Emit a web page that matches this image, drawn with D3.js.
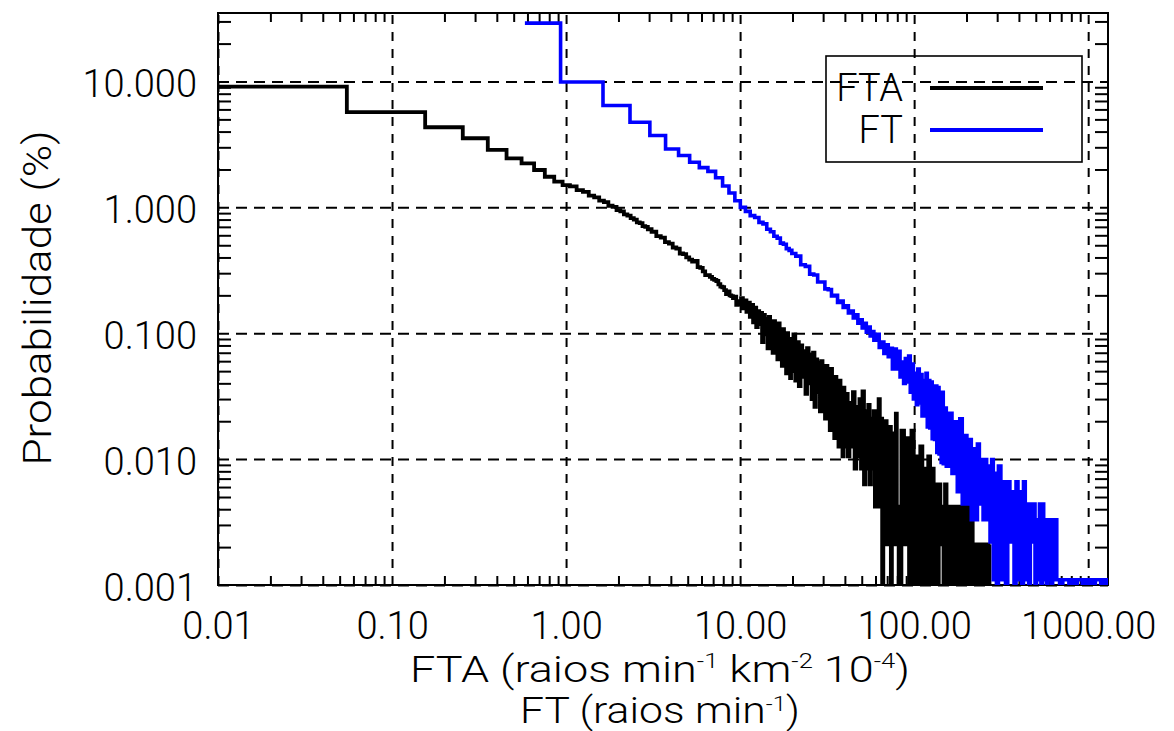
<!DOCTYPE html>
<html><head><meta charset="utf-8">
<script src="https://cdn.jsdelivr.net/npm/d3@7"></script>
<style>
html,body{margin:0;padding:0;background:#fff;}
svg{display:block;}
text{font-family:"Roboto","Liberation Sans",Arial,sans-serif;font-weight:300;fill:#000;}
</style></head><body>
<svg id="chart" width="1174" height="731"></svg>
<script>
// ---------------- DATA ----------------
const xDomain = [0.01, 1300];
const yDomain = [0.001, 35];
const xMajor = [0.01, 0.1, 1, 10, 100, 1000];
const xTickLabels = ["0.01", "0.10", "1.00", "10.00", "100.00", "1000.00"];
const yMajor = [0.001, 0.01, 0.1, 1, 10];
const yTickLabels = ["0.001", "0.010", "0.100", "1.000", "10.000"];
const seriesNames = ["FTA", "FT"];
const seriesColors = ["#000000", "#0000ff"];
const xTitle1 = ["FTA (raios min", "-1", " km", "-2", " 10", "-4", ")"];
const xTitle2 = ["FT (raios min", "-1", ")"];
const yTitle = "Probabilidade (%)";

// FTA histogram: bin centres and probability (%)
const ftaX = [0.005,0.105,0.205,0.305,0.405,0.505,0.605,0.705,0.805,0.905,1.005,
  1.1,1.2,1.3,1.4,1.5,1.6,1.7,1.8,1.9,2.0,2.1,2.2,2.3,2.4,2.5,2.6,2.7,2.8,2.9,3.0,
  3.2,3.4,3.6,3.8,4.0,4.2,4.4,4.6,4.8,5.0,5.2,5.4,5.6,5.8,6.0,6.2,6.4,6.6,6.8,7.0,
  7.2,7.4,7.6,7.8,8.0,8.2,8.4,8.6,8.8,9.0,9.2,9.4,9.6,9.8,10.0,
  10.25,10.5,10.75,11,11.25,11.5,11.75,12,12.25,12.5,12.75,13,13.25,13.5,13.75,14,14.25,14.5,14.75,15,
  15.25,15.5,15.75,16,16.25,16.5,16.75,17,17.25,17.5,17.75,18,18.25,18.5,18.75,19,19.25,19.5,19.75,20,
  20.5,21,21.5,22,22.5,23,23.5,24,24.5,25,25.5,26,26.5,27,27.5,28,28.5,29,29.5,30,
  30.5,31,31.5,32,32.5,33,33.5,34,34.5,35,35.5,36,36.5,37,37.5,38,38.5,39,39.5,40,
  41,42,43,44,45,46,47,48,49,50,51,52,53,54,55,56,57,58,59,60,
  61,62,63,64,65,66,67,68,69,70,71,72,73,74,75,76,77,78,79,80,
  83,86,89,92,95,98,101,104,107,110,113,116,119,122,125,128,131,134,137,140,143,146,149,152,155,158,161,
  166,172,178,184,190,196,202,208,214,220,226,232,238,244,250,256,262,268,274];
const ftaY = [9.1,5.7,4.33,3.54,2.86,2.45,2.24,1.98,1.75,1.60,1.50,
  1.47,1.37,1.33,1.24,1.20,1.13,1.10,1.03,1.01,0.95,0.93,0.88,0.86,0.82,0.80,0.76,0.75,0.71,0.70,0.67,
  0.64,0.59,0.575,0.53,0.515,0.48,0.47,0.43,0.425,0.40,0.385,0.37,0.375,0.335,0.33,0.31,0.29,0.29,0.28,0.27,
  0.265,0.26,0.245,0.235,0.232,0.22,0.205,0.215,0.20,0.197,0.19,0.195,0.168,0.18,0.17,
  0.19,0.158,0.182,0.148,0.175,0.135,0.168,0.122,0.16,0.112,0.15,0.118,0.145,0.085,0.14,0.098,0.13,0.076,0.135,0.088,
  0.118,0.07,0.125,0.079,0.11,0.062,0.12,0.068,0.098,0.055,0.108,0.06,0.095,0.048,0.1,0.055,0.088,0.044,0.09,0.05,
  0.098,0.042,0.085,0.038,0.08,0.045,0.072,0.033,0.076,0.04,0.068,0.03,0.07,0.026,0.062,0.034,0.058,0.024,0.06,0.028,
  0.052,0.021,0.055,0.025,0.046,0.017,0.052,0.021,0.042,0.0147,0.045,0.019,0.038,0.0126,0.042,0.0147,0.034,0.0105,0.037,0.0126,
  0.033,0.0105,0.028,0.0126,0.034,0.0084,0.026,0.0105,0.03,0.0084,0.0345,0.0063,0.024,0.0084,0.027,0.0063,0.021,0.0084,0.024,0.0042,
  0.019,0.0063,0.03,0.0042,0.021,0,0.0168,0.0042,0.02,0.0021,0.0147,0.0063,0.018,0,0.0126,0.0042,0.016,0.0021,0.023,0.0042,
  0,0.0168,0.0021,0.0147,0,0.0168,0,0.0105,0,0.0126,0,0.0084,0,0.0105,0,0.0084,0,0.0063,0,0.0063,0.0021,0.0042,0,0.0063,0,0.0042,0,
  0.0042,0,0.0042,0,0.0042,0,0.0063,0,0.0042,0,0.0021,0,0.0021,0,0.0021,0,0.0021,0,0.0021];

// FT histogram: bin centres and probability (%)
const ftX = [0.58,1.28,1.98,2.68,3.38,4.08,4.78,5.48,6.18,6.88,7.58,8.28,8.98,9.68,
  10.38,11.08,11.78,12.48,13.18,13.88,14.58,15.28,15.98,16.68,17.38,18.08,18.78,19.48,20.18,
  21.6,23.0,24.4,25.8,27.2,28.6,30.0,31.4,32.8,34.2,35.6,37.0,38.4,39.8,41.2,42.6,44.0,45.4,46.8,48.2,49.6,51.0,52.4,53.8,55.2,56.6,58.0,59.4,60.8,
  62,64,66,68,70,72,74,76,78,80,82,84,86,88,90,92,94,96,98,100,102,104,106,108,110,112,114,116,118,120,122,124,126,128,130,132,134,136,138,140,142,144,146,148,150,
  156,162,168,174,180,186,192,198,204,210,216,222,228,234,240,246,252,258,264,270,276,282,288,294,300,
  310,320,330,340,350,360,370,380,390,400,410,420,430,440,450,460,470,480,490,500,510,520,530,540,550,560,570,580,590,600,610,620,630,640,650,
  670,700,730,760,790,820,850,880,910,940,970,1000,1040,1080,1120,1160,1200,1240,1280,1320];
const ftY = [29.1,9.9,6.44,4.74,3.72,2.91,2.58,2.28,2.07,1.93,1.72,1.48,1.30,1.13,
  1.0,0.93,0.86,0.83,0.76,0.74,0.67,0.64,0.59,0.57,0.52,0.51,0.47,0.455,0.43,
  0.41,0.35,0.34,0.295,0.29,0.255,0.255,0.225,0.222,0.198,0.20,0.176,0.18,0.16,0.165,0.145,0.15,0.132,0.14,0.12,0.128,0.11,0.12,0.102,0.112,0.095,0.103,0.088,0.097,
  0.098,0.077,0.085,0.069,0.081,0.065,0.076,0.052,0.075,0.052,0.072,0.045,0.059,0.040,0.063,0.041,0.066,0.034,0.057,0.030,0.048,0.027,0.052,0.028,0.047,0.022,0.042,0.022,0.048,0.018,0.042,0.0177,0.041,0.0145,0.033,0.0143,0.038,0.0113,0.037,0.011,0.031,0.0094,0.034,0.0092,0.0255,
  0.0088,0.0231,0.0077,0.0198,0.0055,0.0209,0.0044,0.0154,0.0044,0.0143,0.0033,0.0121,0.0033,0.0132,0.0044,0.0099,0.0033,0.0099,0.0033,0.0088,0.0022,0.0099,0.0011,0.0077,0,
  0.0088,0.0011,0.0066,0,0.0066,0.0022,0.0055,0,0.0066,0.0011,0.0055,0,0.0066,0.0011,0.0044,0,0.0044,0.0022,0.0044,0,0.0033,0.0011,0.0044,0,0.0044,0.0011,0.0033,0,0.0033,0.0011,0.0033,0,0.0033,0.0011,0.0033,
  0.0011,0,0.0011,0.0011,0,0.0011,0,0.0011,0.0011,0,0.0011,0,0.0011,0,0.0011,0.0011,0,0.0011,0,0.0011];

// ---------------- CHART ----------------
const plot = {left: 218, top: 13, right: 1108, bottom: 585};
const pw = plot.right - plot.left, ph = plot.bottom - plot.top;
const x = d3.scaleLog().domain(xDomain).range([plot.left, plot.right]);
const y = d3.scaleLog().domain(yDomain).range([plot.bottom, plot.top]);
const svg = d3.select("#chart");
svg.append("rect").attr("width",1174).attr("height",731).attr("fill","#fff");

svg.append("defs").append("clipPath").attr("id","clip")
  .append("rect").attr("x",plot.left).attr("y",plot.top).attr("width",pw).attr("height",ph);

const isMajor = (v, arr) => arr.some(m => Math.abs(v - m) / m < 1e-6);
const xMinor = x.ticks().filter(v => !isMajor(v, xMajor));
const yMinor = y.ticks().filter(v => !isMajor(v, yMajor));

function styleAxis(g, dash, w){
  g.select(".domain").remove();
  g.selectAll(".tick line").attr("stroke","#000").attr("stroke-width",w)
    .attr("stroke-dasharray", dash);
}
// grids (major ticks at full length, dashed)
svg.append("g").attr("transform",`translate(0,${plot.bottom})`)
  .call(d3.axisBottom(x).tickValues(xMajor).tickSize(-ph).tickFormat(""))
  .call(g => styleAxis(g, "9,8", 2));
svg.append("g").attr("transform",`translate(${plot.left},0)`)
  .call(d3.axisLeft(y).tickValues(yMajor).tickSize(-pw).tickFormat(""))
  .call(g => styleAxis(g, "11,7", 2));
// minor ticks
svg.append("g").attr("transform",`translate(0,${plot.bottom})`)
  .call(d3.axisBottom(x).tickValues(xMinor).tickSize(-9).tickFormat(""))
  .call(g => styleAxis(g, null, 2));
svg.append("g").attr("transform",`translate(0,${plot.top})`)
  .call(d3.axisTop(x).tickValues(xMinor).tickSize(-9).tickFormat(""))
  .call(g => styleAxis(g, null, 2));
svg.append("g").attr("transform",`translate(${plot.left},0)`)
  .call(d3.axisLeft(y).tickValues(yMinor).tickSize(-13).tickFormat(""))
  .call(g => styleAxis(g, null, 2));
svg.append("g").attr("transform",`translate(${plot.right},0)`)
  .call(d3.axisRight(y).tickValues(yMinor).tickSize(-13).tickFormat(""))
  .call(g => styleAxis(g, null, 2));

// tick labels
const FONT = "Roboto, 'Liberation Sans', Arial, sans-serif";
const xl = svg.append("g").attr("transform",`translate(0,${plot.bottom})`)
  .call(d3.axisBottom(x).tickValues(xMajor).tickSize(0).tickPadding(27)
    .tickFormat((d,i) => xTickLabels[i]));
xl.select(".domain").remove();
xl.selectAll("text").attr("font-size",38).attr("font-family",FONT).attr("font-weight",300).attr("fill","#000");
const yl = svg.append("g").attr("transform",`translate(${plot.left},0)`)
  .call(d3.axisLeft(y).tickValues(yMajor).tickSize(0).tickPadding(21)
    .tickFormat((d,i) => yTickLabels[i]));
yl.select(".domain").remove();
yl.selectAll("text").attr("font-size",38).attr("font-family",FONT).attr("font-weight",300).attr("dy","0.40em").attr("fill","#000");

// frame
svg.append("rect").attr("x",plot.left).attr("y",plot.top).attr("width",pw).attr("height",ph)
  .attr("fill","none").attr("stroke","#000").attr("stroke-width",2);

// data (histogram steps)
function stepPoints(xs, ys){
  const pts = [];
  for (let i = 0; i < xs.length; i++){
    const x0 = i === 0 ? xs[0] : (xs[i-1] + xs[i]) / 2;
    const x1 = i === xs.length - 1 ? xs[i] : (xs[i] + xs[i+1]) / 2;
    pts.push([x0, ys[i]], [x1, ys[i]]);
  }
  return pts;
}
const line = d3.line()
  .x(d => x(Math.max(d[0], xDomain[0])))
  .y(d => y(Math.max(d[1], yDomain[0])));
const dataG = svg.append("g").attr("clip-path","url(#clip)");
dataG.append("path").attr("d", line(stepPoints(ftaX, ftaY)))
  .attr("fill","none").attr("stroke",seriesColors[0]).attr("stroke-width",3.8)
  .attr("stroke-linejoin","miter").attr("stroke-miterlimit",2);
dataG.append("path").attr("d", line(stepPoints(ftX, ftY)))
  .attr("fill","none").attr("stroke",seriesColors[1]).attr("stroke-width",3.6)
  .attr("stroke-linejoin","miter").attr("stroke-miterlimit",2);

// legend
const lg = svg.append("g");
lg.append("rect").attr("x",826).attr("y",56).attr("width",256).attr("height",106)
  .attr("fill","none").attr("stroke","#000").attr("stroke-width",1.6);
[0,1].forEach(i => {
  const ly = [88, 130][i];
  lg.append("text").attr("x",903).attr("y",ly+13).attr("text-anchor","end")
    .attr("font-size",38).text(seriesNames[i]);
  lg.append("line").attr("x1",930).attr("x2",1043).attr("y1",ly).attr("y2",ly)
    .attr("stroke",seriesColors[i]).attr("stroke-width",4);
});

// axis titles
function richText(parts, cx, by, len, supDy){
  const t = svg.append("text").attr("x",cx).attr("y",by).attr("text-anchor","middle")
    .attr("font-size",37);
  parts.forEach((p,i) => {
    const sup = i % 2 === 1;
    const ts = t.append("tspan").text(p);
    if (sup) ts.attr("font-size",21).attr("dy",-supDy);
    else if (i > 0) ts.attr("dy",supDy);
  });
  if (len) t.attr("textLength",len).attr("lengthAdjust","spacingAndGlyphs");
  return t;
}
richText(xTitle1, 660, 682, 500, 14);
richText(xTitle2, 660, 723, 280, 12);
svg.append("text").attr("transform","translate(51,298) rotate(-90)")
  .attr("text-anchor","middle").attr("font-size",38)
  .attr("textLength",335).attr("lengthAdjust","spacingAndGlyphs").text(yTitle);
</script></body></html>
